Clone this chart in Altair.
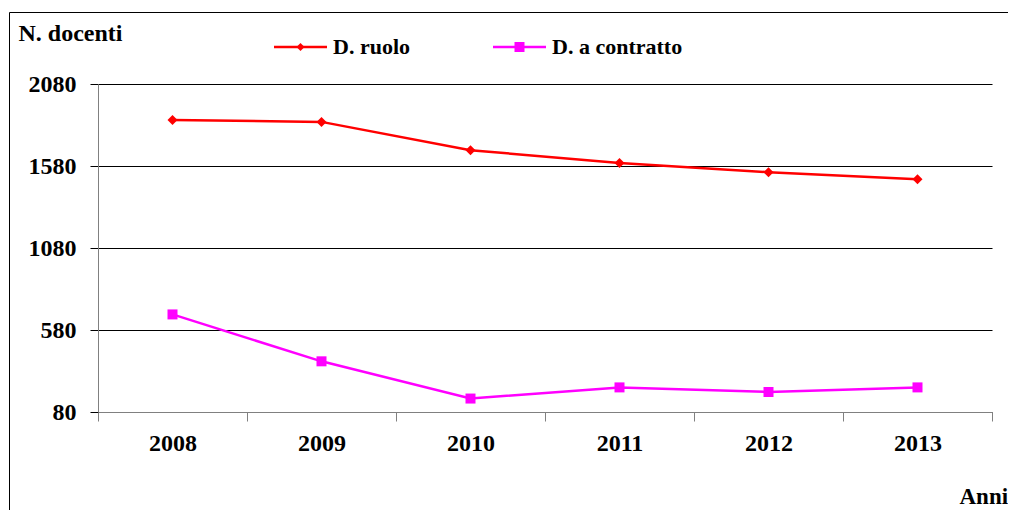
import altair as alt
import pandas as pd

years = ["2008", "2009", "2010", "2011", "2012", "2013"]
ruolo = [1861, 1849, 1676, 1599, 1542, 1499]
contratto = [675, 389, 162, 230, 202, 230]
series_names = ["D. ruolo", "D. a contratto"]
series_colors = ["#FF0000", "#FF00FF"]
series_shapes = ["diamond", "square"]
y_ticks = [80, 580, 1080, 1580, 2080]

rows = []
for name, vals in zip(series_names, [ruolo, contratto]):
    for yr, v in zip(years, vals):
        rows.append({"anno": yr, "serie": name, "valore": v})
df = pd.DataFrame(rows)

FONT = "Liberation Serif"
W, H = 894, 328

x_enc = alt.X(
    "anno:N", sort=years,
    scale=alt.Scale(type="band", paddingInner=0, paddingOuter=0),
    axis=alt.Axis(
        title="Anni", labelAngle=0, tickBand="extent", grid=False,
        domainColor="#808080", tickColor="#808080", tickSize=9,
        labelPadding=10, labelFontSize=24, labelFont=FONT, labelFontWeight="bold",
        labelColor="black", titleFont=FONT, titleFontSize=23, titleFontWeight="bold",
        titleAngle=0, titleAlign="left", titleBaseline="middle",
        titleX=861, titleY=84, titleColor="black",
    ),
)
y_enc = alt.Y(
    "valore:Q",
    scale=alt.Scale(domain=[80, 2080], nice=False, zero=False),
    axis=alt.Axis(
        values=y_ticks, format="d", title="N. docenti", grid=True, gridColor="black", gridWidth=1,
        tickColor="black", tickSize=8, labelPadding=14, domainColor="#808080",
        labelFontSize=24, labelFont=FONT, labelFontWeight="bold", labelColor="black",
        titleFont=FONT, titleFontSize=24, titleFontWeight="bold", titleColor="black",
        titleAngle=0, titleAlign="left", titleBaseline="middle", titleX=-80, titleY=-51,
    ),
)
color_scale = alt.Scale(domain=series_names, range=series_colors)

frame = alt.Chart(pd.DataFrame({"k": [0]})).mark_rect(
    fillOpacity=0, stroke="black", strokeWidth=1
).encode(
    x=alt.value(-88.5), x2=alt.value(980), y=alt.value(-71.5), y2=alt.value(480)
)

lines = alt.Chart(df).mark_line(strokeWidth=2.5).encode(
    x=x_enc, y=y_enc,
    color=alt.Color("serie:N", scale=color_scale, legend=None),
)
points = alt.Chart(df).mark_point(filled=True, size=100, opacity=1).encode(
    x=x_enc, y=y_enc,
    color=alt.Color("serie:N", scale=color_scale, legend=None),
    shape=alt.Shape("serie:N", scale=alt.Scale(domain=series_names, range=series_shapes), legend=None),
)

# manual legend (line + marker + label)
leg_layers = []
leg_start = [176, 395]
leg_marker_size = [64, 100]
for i, name in enumerate(series_names):
    ld = pd.DataFrame({"serie": [name]})
    x0 = leg_start[i]
    leg_layers.append(
        alt.Chart(ld).mark_rule(color=series_colors[i], strokeWidth=2.5).encode(
            x=alt.value(x0), x2=alt.value(x0 + 53), y=alt.value(-37)
        )
    )
    leg_layers.append(
        alt.Chart(ld).mark_point(filled=True, opacity=1, color=series_colors[i],
                                 shape=series_shapes[i], size=leg_marker_size[i]).encode(
            x=alt.value(x0 + 26.5), y=alt.value(-37)
        )
    )
    leg_layers.append(
        alt.Chart(ld).mark_text(align="left", baseline="middle", font=FONT, fontSize=22,
                                fontWeight="bold", color="black").encode(
            x=alt.value(x0 + 59), y=alt.value(-37), text="serie:N"
        )
    )

chart = alt.layer(frame, lines, points, *leg_layers).properties(
    width=W, height=H,
    padding={"left": 90, "top": 76, "right": 16, "bottom": 98},
    autosize=alt.AutoSizeParams(type="none"),
    background="white",
).configure_view(stroke="transparent")

chart.save("out.html", embed_options={"renderer": "svg", "actions": False})
